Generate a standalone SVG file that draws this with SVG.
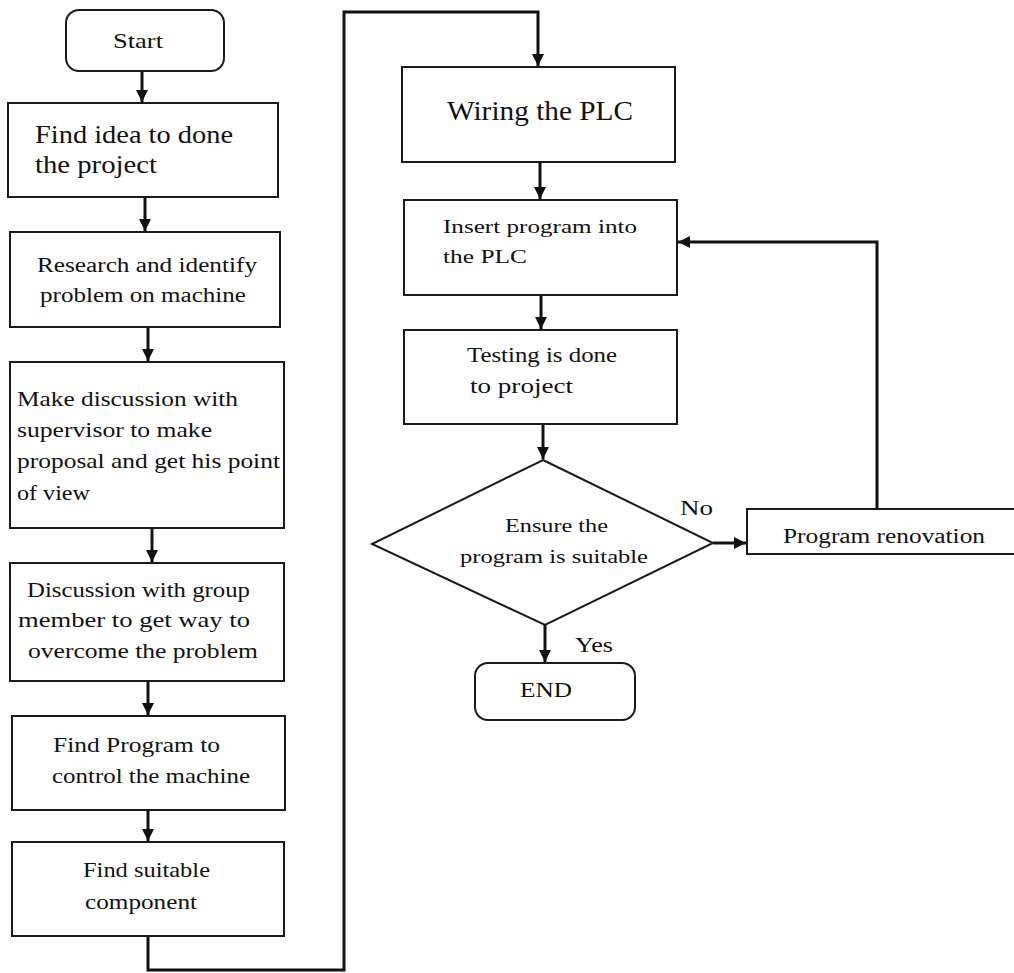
<svg xmlns="http://www.w3.org/2000/svg" width="1014" height="973" viewBox="0 0 1014 973">
<style>
.box{fill:#fff;stroke:#1a1a1a;stroke-width:2}
.t{font-family:"Liberation Serif","Times New Roman",serif;fill:#111}
.c{fill:none;stroke:#111;stroke-width:3}
</style>
<defs>
<marker id="ah" viewBox="0 0 10 10" refX="10" refY="5" markerWidth="4" markerHeight="4" orient="auto" markerUnits="strokeWidth">
<path d="M0,0 L10,5 L0,10 z" fill="#111"/>
</marker>
</defs>
<rect width="1014" height="973" fill="#fff"/>
<g id="connectors">
<line class="c" x1="142" y1="71" x2="142" y2="102" marker-end="url(#ah)"/>
<line class="c" x1="145" y1="197" x2="145" y2="231" marker-end="url(#ah)"/>
<line class="c" x1="148" y1="327" x2="148" y2="361" marker-end="url(#ah)"/>
<line class="c" x1="152" y1="528" x2="152" y2="562" marker-end="url(#ah)"/>
<line class="c" x1="148" y1="681" x2="148" y2="715" marker-end="url(#ah)"/>
<line class="c" x1="148" y1="810" x2="148" y2="841" marker-end="url(#ah)"/>
<path class="c" d="M148 936 V970 H344 V12 H538 V66" marker-end="url(#ah)"/>
<line class="c" x1="540" y1="162" x2="540" y2="199" marker-end="url(#ah)"/>
<line class="c" x1="541" y1="295" x2="541" y2="329" marker-end="url(#ah)"/>
<line class="c" x1="543" y1="424" x2="543" y2="459" marker-end="url(#ah)"/>
<line class="c" x1="713" y1="543" x2="746" y2="543" marker-end="url(#ah)"/>
<path class="c" d="M877 509 V242 H678" marker-end="url(#ah)"/>
<line class="c" x1="545" y1="625" x2="545" y2="662" marker-end="url(#ah)"/>
<text class="t" x="680" y="515" font-size="21" textLength="33" lengthAdjust="spacingAndGlyphs">No</text>
<text class="t" x="575" y="652" font-size="21" textLength="38" lengthAdjust="spacingAndGlyphs">Yes</text>
</g>
<g id="start">
<rect class="box" x="66" y="10" width="158" height="61" rx="13"/>
<text class="t" x="113" y="48" font-size="21" textLength="50" lengthAdjust="spacingAndGlyphs">Start</text>
</g>
<g id="find-idea">
<rect class="box" x="8" y="103" width="270" height="94"/>
<text class="t" x="35" y="143" font-size="26" textLength="198" lengthAdjust="spacingAndGlyphs">Find idea to done</text>
<text class="t" x="35" y="173" font-size="26" textLength="122" lengthAdjust="spacingAndGlyphs">the project</text>
</g>
<g id="research">
<rect class="box" x="10" y="232" width="270" height="95"/>
<text class="t" x="37" y="272" font-size="20" textLength="220" lengthAdjust="spacingAndGlyphs">Research and identify</text>
<text class="t" x="40" y="302" font-size="20" textLength="206" lengthAdjust="spacingAndGlyphs">problem on machine</text>
</g>
<g id="make-discussion">
<rect class="box" x="10" y="362" width="274" height="166"/>
<text class="t" x="17" y="406" font-size="21" textLength="221" lengthAdjust="spacingAndGlyphs">Make discussion with</text>
<text class="t" x="17" y="437" font-size="21" textLength="195" lengthAdjust="spacingAndGlyphs">supervisor to make</text>
<text class="t" x="17" y="468" font-size="21" textLength="263" lengthAdjust="spacingAndGlyphs">proposal and get his point</text>
<text class="t" x="17" y="500" font-size="21" textLength="73" lengthAdjust="spacingAndGlyphs">of view</text>
</g>
<g id="group-discussion">
<rect class="box" x="10" y="563" width="274" height="118"/>
<text class="t" x="27" y="597" font-size="21" textLength="223" lengthAdjust="spacingAndGlyphs">Discussion with group</text>
<text class="t" x="18" y="627" font-size="21" textLength="232" lengthAdjust="spacingAndGlyphs">member to get way to</text>
<text class="t" x="28" y="658" font-size="21" textLength="230" lengthAdjust="spacingAndGlyphs">overcome the problem</text>
</g>
<g id="find-program">
<rect class="box" x="12" y="716" width="273" height="94"/>
<text class="t" x="53" y="752" font-size="21" textLength="167" lengthAdjust="spacingAndGlyphs">Find Program to</text>
<text class="t" x="52" y="783" font-size="21" textLength="198" lengthAdjust="spacingAndGlyphs">control the machine</text>
</g>
<g id="find-component">
<rect class="box" x="12" y="842" width="272" height="94"/>
<text class="t" x="83" y="877" font-size="21" textLength="127" lengthAdjust="spacingAndGlyphs">Find suitable</text>
<text class="t" x="85" y="909" font-size="21" textLength="112" lengthAdjust="spacingAndGlyphs">component</text>
</g>
<g id="wiring">
<rect class="box" x="402" y="67" width="273" height="95"/>
<text class="t" x="447" y="120" font-size="27" textLength="186" lengthAdjust="spacingAndGlyphs">Wiring the PLC</text>
</g>
<g id="insert">
<rect class="box" x="404" y="200" width="273" height="95"/>
<text class="t" x="443" y="233" font-size="19" textLength="194" lengthAdjust="spacingAndGlyphs">Insert program into</text>
<text class="t" x="443" y="263" font-size="19" textLength="84" lengthAdjust="spacingAndGlyphs">the PLC</text>
</g>
<g id="testing">
<rect class="box" x="404" y="330" width="273" height="94"/>
<text class="t" x="467" y="362" font-size="20" textLength="150" lengthAdjust="spacingAndGlyphs">Testing is done</text>
<text class="t" x="470" y="393" font-size="20" textLength="103" lengthAdjust="spacingAndGlyphs">to project</text>
</g>
<g id="decision">
<polygon class="box" points="543,460 713,543 545,625 372,544"/>
<text class="t" x="505" y="532" font-size="19" textLength="103" lengthAdjust="spacingAndGlyphs">Ensure the</text>
<text class="t" x="460" y="563" font-size="19" textLength="188" lengthAdjust="spacingAndGlyphs">program is suitable</text>
</g>
<g id="renovation">
<rect class="box" x="747" y="509" width="280" height="45"/>
<text class="t" x="783" y="543" font-size="20" textLength="202" lengthAdjust="spacingAndGlyphs">Program renovation</text>
</g>
<g id="end">
<rect class="box" x="475" y="663" width="160" height="57" rx="13"/>
<text class="t" x="520" y="697" font-size="20" textLength="52" lengthAdjust="spacingAndGlyphs">END</text>
</g>
</svg>
